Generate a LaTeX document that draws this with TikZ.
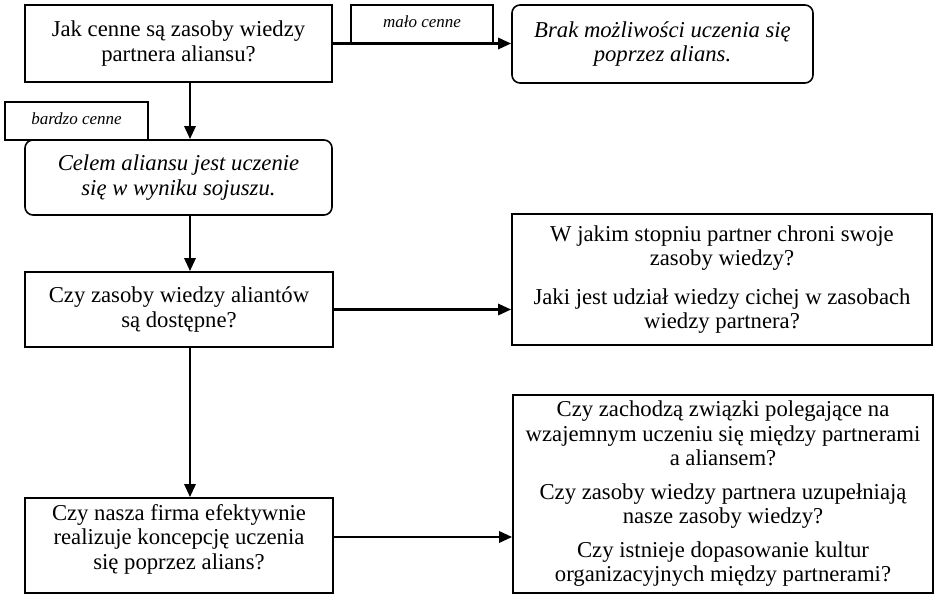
\documentclass[tikz,border=0pt]{standalone}
\usepackage{fontspec}
\setmainfont{Liberation Serif}
\usetikzlibrary{arrows.meta}
\begin{document}
\begin{tikzpicture}[x=1pt,y=-1pt,
  box/.style={draw, line width=1.6pt, align=center, inner sep=0pt,
    font=\fontsize{22.7}{24.5}\selectfont},
  roundbox/.style={box, rounded corners=8pt, font=\fontsize{22.7}{24.5}\selectfont\itshape},
  lbl/.style={draw, line width=1.6pt, inner sep=0pt, font=\fontsize{17}{19}\selectfont\itshape},
  arr/.style={line width=2.8pt, -{Triangle[length=13pt,width=11pt]}}]
  % page
  \fill[white] (0,0) rectangle (935,594);
  \useasboundingbox (0,0) rectangle (935,594);
  \coordinate (vx) at (190,0);
  \coordinate (ay) at (0,537);

  % label boxes (drawn first, so connectors and boxes lie on top)
  \node[lbl, minimum width=142pt, minimum height=38pt] (lmalo) at (422,24)
    {\raisebox{4pt}{mało cenne}};
  \node[lbl, minimum width=143pt, minimum height=38pt] (lbardzo) at (76.5,121)
    {\raisebox{4pt}{bardzo cenne}};

  % left column
  \node[box, fill=white, minimum width=307pt, minimum height=77pt] (q1) at (178.5,43.5)
    {Jak cenne są zasoby wiedzy\\partnera aliansu?};
  \node[roundbox, fill=white, minimum width=307pt, minimum height=75pt] (g1) at (178.5,177.5)
    {Celem aliansu jest uczenie\\się w wyniku sojuszu.};
  \node[box, minimum width=308pt, minimum height=75pt] (q2) at (179,309.5)
    {Czy zasoby wiedzy aliantów\\są dostępne?};
  \node[box, minimum width=308pt, minimum height=95pt, text depth=17pt] (q3) at (179,545.5)
    {Czy nasza firma efektywnie\\realizuje koncepcję uczenia\\się poprzez alians?};

  % right column
  \node[roundbox, minimum width=301pt, minimum height=78pt] (r1) at (662.5,44)
    {Brak możliwości uczenia się\\poprzez alians.};
  \node[box, minimum width=420pt, minimum height=131pt] (r2) at (722,279.5)
    {W jakim stopniu partner chroni swoje\\zasoby wiedzy?\\[14pt]
     Jaki jest udział wiedzy cichej w zasobach\\wiedzy partnera?};
  \node[box, minimum width=420pt, minimum height=198pt] (r3) at (723,494)
    {Czy zachodzą związki polegające na\\wzajemnym uczeniu się między partnerami\\a aliansem?\\[9pt]
     Czy zasoby wiedzy partnera uzupełniają\\nasze zasoby wiedzy?\\[9pt]
     Czy istnieje dopasowanie kultur\\organizacyjnych między partnerami?};

  % connectors
  \draw[arr] (q1.east) -- (q1.east -| r1.west);
  \draw[arr] (q1.south -| vx) -- (g1.north -| vx);
  \draw[arr] (g1.south -| vx) -- (q2.north -| vx);
  \draw[arr] (q2.east) -- (q2.east -| r2.west);
  \draw[arr] (q2.south -| vx) -- (q3.north -| vx);
  \draw[arr] (q3.east |- ay) -- (r3.west |- ay);
\end{tikzpicture}
\end{document}
